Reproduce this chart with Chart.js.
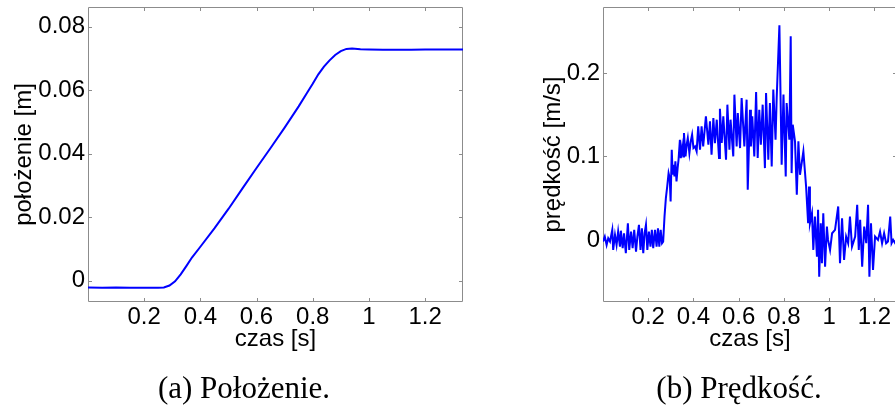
<!DOCTYPE html>
<html>
<head>
<meta charset="utf-8">
<script src="https://cdn.jsdelivr.net/npm/chart.js@4.4.0/dist/chart.umd.min.js"></script>
<style>
  html, body { margin: 0; padding: 0; background: #fff; overflow: hidden; width: 895px; height: 407px; }
  canvas { position: absolute; top: 0; }
  #posChart { left: 0; width: 470px; height: 407px; }
  #velChart { left: 500px; width: 400px; height: 407px; }
  .caption { position: absolute; top: 373px; font-family: "Liberation Serif", serif; font-size: 31px; line-height: 30px; transform: translateX(-50%); white-space: nowrap; color: #000; }
</style>
</head>
<body>
<canvas id="posChart" width="470" height="407"></canvas>
<canvas id="velChart" width="400" height="407"></canvas>
<div class="caption" style="left:244px">(a) Położenie.</div>
<div class="caption" style="left:739px">(b) Prędkość.</div>
<script>
// tick labels
const timeTicks = [0.2, 0.4, 0.6, 0.8, 1, 1.2];
const timeLabels = ['0.2', '0.4', '0.6', '0.8', '1', '1.2'];
const posTicks = [0, 0.02, 0.04, 0.06, 0.08];
const posLabels = ['0', '0.02', '0.04', '0.06', '0.08'];
const velTicks = [0, 0.1, 0.2];
const velLabels = ['0', '0.1', '0.2'];

// position [m] vs time [s]
const posTime = [0, 0.05, 0.10, 0.15, 0.20, 0.25, 0.27, 0.29, 0.31, 0.33, 0.35, 0.37, 0.40, 0.45, 0.50,
  0.55, 0.60, 0.65, 0.70, 0.75, 0.78, 0.80, 0.82, 0.84, 0.86, 0.88, 0.90, 0.92, 0.94, 0.97,
  1.00, 1.05, 1.10, 1.15, 1.20, 1.25, 1.30, 1.335];
const posValue = [-0.0021, -0.0022, -0.0021, -0.0022, -0.0022, -0.0022, -0.0021, -0.0015, -0.0002, 0.0020,
  0.0046, 0.0073, 0.0107, 0.0165, 0.0226, 0.0291, 0.0355, 0.0418, 0.0482, 0.0549,
  0.0592, 0.0620, 0.0650, 0.0674, 0.0694, 0.0711, 0.0723, 0.0730, 0.0731, 0.0729,
  0.0728, 0.0727, 0.0727, 0.0727, 0.0728, 0.0728, 0.0728, 0.0728];

// velocity [m/s] vs time [s]
const velTime = [
  0.000, 0.008, 0.016, 0.023, 0.031, 0.041, 0.045, 0.053, 0.060, 0.067,
  0.075, 0.079, 0.087, 0.093, 0.101, 0.110, 0.116, 0.124, 0.131, 0.138,
  0.146, 0.152, 0.159, 0.166, 0.172, 0.178, 0.184, 0.190, 0.196, 0.203,
  0.210, 0.216, 0.222, 0.230, 0.237, 0.243, 0.249, 0.255, 0.261, 0.266,
  0.272, 0.278, 0.284, 0.290, 0.295, 0.299, 0.304, 0.308, 0.312, 0.316,
  0.320, 0.325, 0.330, 0.334, 0.340, 0.344, 0.350, 0.355, 0.358, 0.365,
  0.370, 0.375, 0.382, 0.388, 0.394, 0.400, 0.407,
  0.414, 0.421, 0.429, 0.436, 0.443, 0.455, 0.466, 0.473, 0.480, 0.488,
  0.495, 0.503, 0.513, 0.517, 0.525, 0.532, 0.544, 0.550, 0.559, 0.564,
  0.576, 0.581, 0.591, 0.596, 0.606, 0.613, 0.625, 0.635, 0.640, 0.650,
  0.654, 0.660, 0.669, 0.677, 0.684, 0.691, 0.698, 0.706, 0.716, 0.721,
  0.731, 0.738, 0.746, 0.753, 0.763, 0.768, 0.780, 0.790, 0.798, 0.808,
  0.812, 0.824, 0.830, 0.834, 0.839, 0.849, 0.857, 0.864, 0.871, 0.886,
  0.898, 0.907, 0.911, 0.915, 0.924, 0.930, 0.937, 0.946, 0.951, 0.956,
  0.963, 0.968, 0.974, 0.982, 0.990, 0.995, 1.004, 1.013, 1.026, 1.040,
  1.048, 1.057, 1.066, 1.075, 1.084, 1.092, 1.101, 1.115, 1.124, 1.131,
  1.137, 1.146, 1.155, 1.164, 1.172, 1.178, 1.185, 1.194, 1.203, 1.216,
  1.225, 1.234, 1.243, 1.252, 1.260, 1.270, 1.276, 1.283, 1.292, 1.300];
const velValue = [
  -0.002, 0.004, -0.006, 0.002, -0.002, 0.012, -0.012, 0.006, -0.006, 0.010,
  -0.008, 0.011, -0.010, 0.008, -0.016, 0.020, -0.012, 0.010, -0.010, 0.012,
  -0.014, 0.004, 0.018, -0.012, 0.014, -0.016, 0.008, 0.018, -0.012, 0.010,
  -0.008, 0.012, -0.010, 0.012, -0.008, 0.014, -0.008, 0.012, -0.004, -0.002,
  0.028, 0.050, 0.064, 0.080, 0.074, 0.046, 0.108, 0.078, 0.090, 0.076,
  0.094, 0.070, 0.086, 0.096, 0.120, 0.098, 0.112, 0.100, 0.128, 0.100,
  0.114, 0.122, 0.104, 0.118, 0.126, 0.110, 0.112,
  0.106, 0.136, 0.108, 0.136, 0.112, 0.148, 0.114, 0.142, 0.102, 0.146,
  0.116, 0.144, 0.098, 0.157, 0.116, 0.148, 0.096, 0.162, 0.108, 0.144,
  0.100, 0.174, 0.112, 0.152, 0.110, 0.170, 0.112, 0.168, 0.060, 0.156,
  0.112, 0.148, 0.100, 0.177, 0.098, 0.156, 0.114, 0.162, 0.086, 0.176,
  0.096, 0.164, 0.088, 0.180, 0.120, 0.170, 0.257, 0.090, 0.174, 0.076,
  0.164, 0.120, 0.244, 0.080, 0.138, 0.118, 0.054, 0.118, 0.078, 0.106,
  0.064, 0.020, 0.064, 0.020, 0.032, -0.012, 0.028, -0.020, 0.036, -0.044,
  0.020, -0.028, 0.032, -0.032, 0.016, 0.000, -0.012, 0.008, 0.012, 0.040,
  -0.028, 0.026, -0.024, 0.004, -0.004, 0.028, -0.008, 0.004, 0.042, -0.012,
  0.024, -0.032, 0.016, -0.004, 0.042, -0.044, 0.020, -0.036, 0.004, 0.000,
  0.010, -0.004, 0.008, -0.004, -0.002, 0.028, -0.004, 0.000, -0.004, -0.002];

const frameTicks = {
  id: 'frameTicks',
  beforeDatasetsDraw(chart) {
    const { ctx, chartArea: a, scales: { x, y } } = chart;
    const len = 4;
    ctx.save();
    ctx.strokeStyle = '#8c8c8c';
    ctx.lineWidth = 1;
    ctx.beginPath();
    ctx.rect(a.left + 0.5, a.top + 0.5, a.right - a.left - 1, a.bottom - a.top - 1);
    x.ticks.forEach(t => {
      const px = Math.round(x.getPixelForValue(t.value)) + 0.5;
      ctx.moveTo(px, a.bottom); ctx.lineTo(px, a.bottom - len);
      ctx.moveTo(px, a.top); ctx.lineTo(px, a.top + len);
    });
    y.ticks.forEach(t => {
      const py = Math.round(y.getPixelForValue(t.value)) + 0.5;
      ctx.moveTo(a.left, py); ctx.lineTo(a.left + len, py);
      ctx.moveTo(a.right, py); ctx.lineTo(a.right - len, py);
    });
    ctx.stroke();
    ctx.restore();
  }
};

const sans = { family: '"Liberation Sans", Arial, sans-serif', size: 24 };

// keep the plot box where the reference has it, whatever the edge labels need
function noPad(s) {
  s.paddingTop = 0; s.paddingBottom = 0; s.paddingLeft = 0; s.paddingRight = 0;
}

function makeChart(id, times, values, opts) {
  return new Chart(document.getElementById(id), {
    type: 'line',
    data: {
      datasets: [{
        data: times.map((t, i) => ({ x: t, y: values[i] })),
        borderColor: '#0000ff',
        borderWidth: 2,
        pointRadius: 0,
        tension: 0
      }]
    },
    options: {
      responsive: false,
      animation: false,
      devicePixelRatio: 1,
      layout: { padding: { left: 0, top: 7, right: opts.padRight, bottom: 0 } },
      plugins: { legend: { display: false }, tooltip: { enabled: false } },
      scales: {
        x: {
          type: 'linear',
          min: 0,
          max: opts.xMax,
          grid: { display: false, drawTicks: false },
          border: { display: false },
          afterBuildTicks: s => { s.ticks = timeTicks.map(v => ({ value: v })); },
          afterFit: s => { s.height = 105; noPad(s); },
          ticks: {
            font: sans, color: '#000', padding: 1, maxRotation: 0, autoSkip: false,
            callback: (v, i) => timeLabels[i]
          },
          title: { display: true, text: 'czas [s]', font: sans, color: '#000', padding: { top: 0, bottom: 53 } }
        },
        y: {
          min: opts.yMin,
          max: opts.yMax,
          grid: { display: false, drawTicks: false },
          border: { display: false },
          afterBuildTicks: s => { s.ticks = opts.yTicks.map(v => ({ value: v })); },
          afterFit: s => { s.width = opts.yWidth; noPad(s); },
          ticks: {
            font: sans, color: '#000', padding: 3, autoSkip: false,
            callback: (v, i) => opts.yLabels[i]
          },
          title: { display: true, text: opts.yTitle, font: sans, color: '#000', padding: { top: opts.yTitlePad, bottom: 0 } }
        }
      }
    },
    plugins: [frameTicks]
  });
}

makeChart('posChart', posTime, posValue, {
  xMax: 1.335, yMin: -0.0067, yMax: 0.0862, yTicks: posTicks, yLabels: posLabels,
  yWidth: 88, padRight: 7, yTitle: 'położenie [m]', yTitlePad: 9.6
});
makeChart('velChart', velTime, velValue, {
  xMax: 1.3, yMin: -0.0744, yMax: 0.279, yTicks: velTicks, yLabels: velLabels,
  yWidth: 103, padRight: 3, yTitle: 'prędkość [m/s]', yTitlePad: 38.6
});
</script>
</body>
</html>
